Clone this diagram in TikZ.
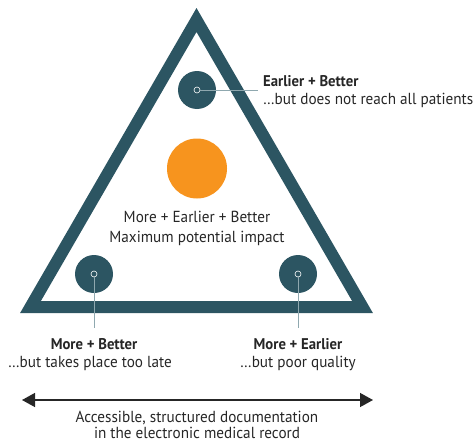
\documentclass[tikz,border=0pt]{standalone}
\usepackage{fontspec}
\setmainfont{PT Sans}[FakeStretch=0.95]
\usetikzlibrary{arrows.meta}
\definecolor{tri}{HTML}{2C5562}
\definecolor{org}{HTML}{F7941E}
\definecolor{txt}{HTML}{262626}
\definecolor{lead}{HTML}{8FA8AF}
\tikzset{
  x=1pt,y=-1pt,
  dot/.style={circle,fill=tri,minimum size=38pt,inner sep=0pt},
  hole/.style={circle,draw=white,fill=tri,line width=0.6pt,minimum size=6pt,inner sep=0pt},
  leader/.style={draw=lead,line width=1pt},
  head/.style={font=\fontsize{15.5}{17}\selectfont\bfseries,text=txt,inner sep=0pt},
  sub/.style={font=\fontsize{16}{18}\selectfont,text=txt,inner sep=0pt},
}
\begin{document}
\begin{tikzpicture}
\useasboundingbox (0,0) rectangle (476,444);
\coordinate (A) at (196.5,20);
\coordinate (L) at (30.5,307);
\coordinate (R) at (362.5,307);
\draw[tri,line width=12pt,miter limit=10] (A) -- (L) -- (R) -- cycle;
% circles
\node[dot] (ct) at (197,90) {};
\node[dot] (cl) at (94,274) {};
\node[dot] (cr) at (298,274) {};
\node[circle,fill=org,minimum size=60pt,inner sep=0pt] (co) at (197,168.5) {};
\node[hole] (ht) at (ct.center) {};
\node[hole] (hl) at (cl.center) {};
\node[hole] (hr) at (cr.center) {};
% labels
\node[head,anchor=base west] (tt1) at (263,86) {Earlier + Better};
\node[sub,anchor=base west] (tt2) at (263,104) {…but does not reach all patients};
\coordinate (et) at (258,90);
\draw[leader] (ht.east) -- (et);
\node[head,anchor=base] (lt1) at (94,349) {More + Better};
\node[sub,anchor=base] (lt2) at (90,367) {…but takes place too late};
\coordinate (el) at (94,328);
\draw[leader] (hl.south) -- (el);
\node[head,anchor=base] (rt1) at (298,349) {More + Earlier};
\node[sub,anchor=base] (rt2) at (298,367) {…but poor quality};
\coordinate (er) at (298,328);
\draw[leader] (hr.south) -- (er);
\node[sub,anchor=base] (m1) at (197,222) {More + Earlier + Better};
\node[sub,anchor=base] (m2) at (197,242) {Maximum potential impact};
% arrow
\coordinate (a1) at (22,400);
\coordinate (a2) at (373,400);
\draw[line width=1.4pt,draw=txt,{Triangle[length=13pt,width=14pt]}-{Triangle[length=13pt,width=14pt]}] (a1) -- (a2);
\node[sub,anchor=base] (b1) at (197,422) {Accessible, structured documentation};
\node[sub,anchor=base] (b2) at (197,438) {in the electronic medical record};
\end{tikzpicture}
\end{document}
